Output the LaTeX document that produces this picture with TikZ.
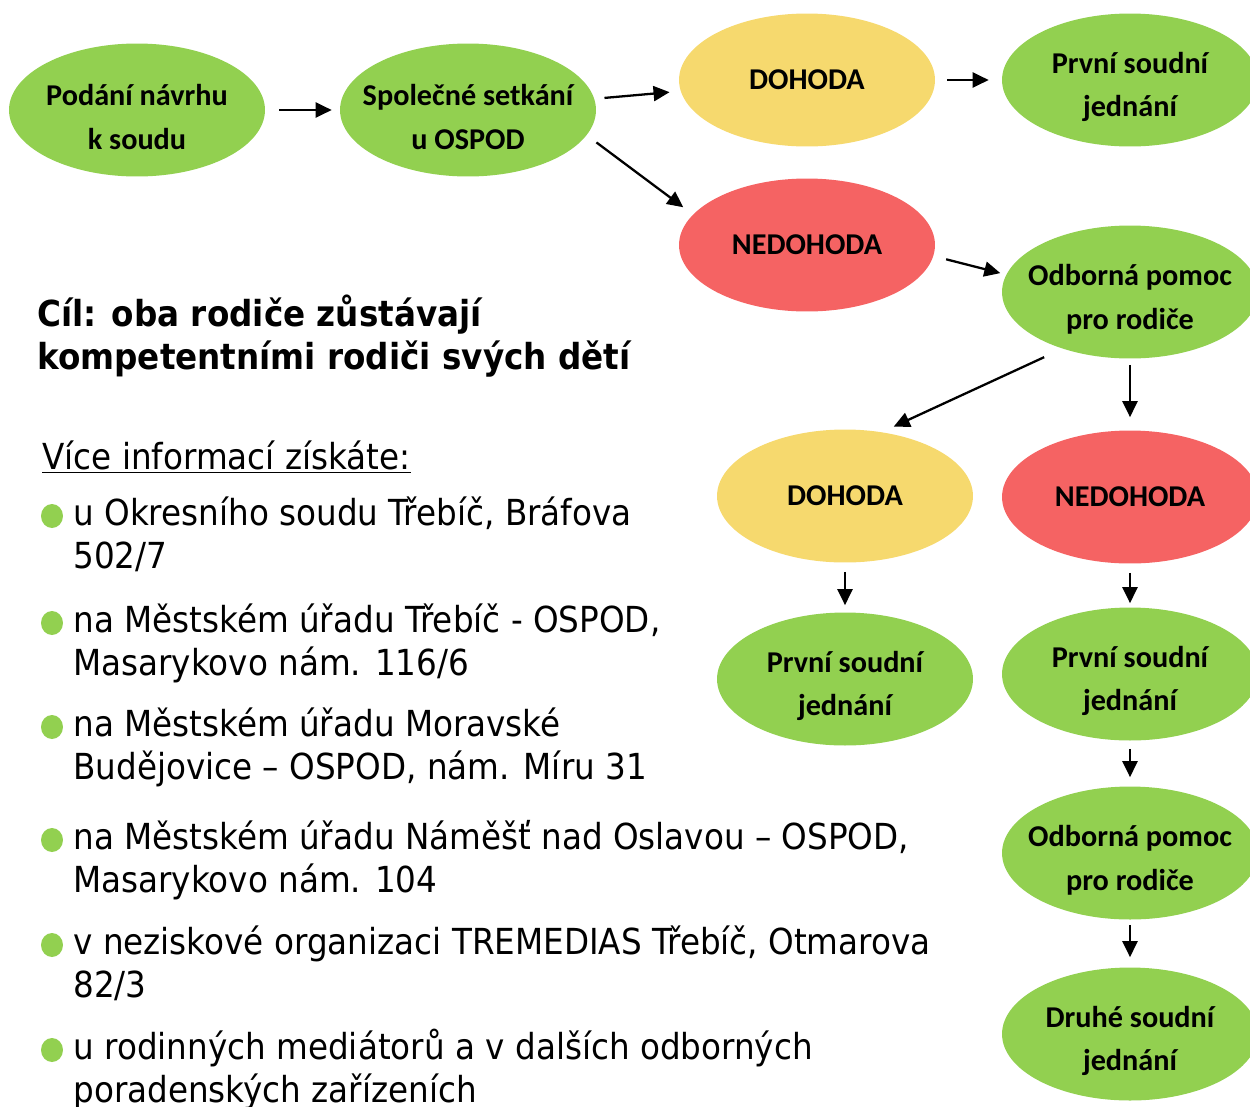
\documentclass[tikz,border=0pt]{standalone}
\usepackage{fontspec}
\setmainfont[FakeStretch=0.91]{DejaVu Sans}
\newfontfamily\bubblefont{Carlito}
\usetikzlibrary{shapes.geometric,arrows.meta}

\definecolor{okgreen}{RGB}{146,208,80}
\definecolor{agryellow}{RGB}{246,217,110}
\definecolor{disred}{RGB}{245,99,99}

\begin{document}
\begin{tikzpicture}[x=0.02cm, y=-0.02cm,
  bubble/.style={ellipse, minimum width=5.12cm, minimum height=2.66cm, inner sep=0pt},
  green/.style={bubble, fill=okgreen},
  yellow/.style={bubble, fill=agryellow},
  red/.style={bubble, fill=disred},
  btext/.style={font=\bubblefont\bfseries\fontsize{17.2}{24.9}\selectfont, align=center},
  two/.style={btext, yshift=-0.14cm},
  flow/.style={-{Triangle[length=0.32cm,width=0.3cm]}, line width=1.3pt},
  item/.style={anchor=base west, align=left, inner sep=0pt, font=\fontsize{20.4}{24.4}\selectfont},
  dot/.style={ellipse, fill=okgreen, minimum width=0.44cm, minimum height=0.48cm, inner sep=0pt}]

\useasboundingbox (0,0) rectangle (1250,1106);
\clip (0,0) rectangle (1250,1106);

% Row 1
\node[green, label={[two]center:Podání návrhu\\k soudu}] (sub) at (137,110) {};
\node[green, label={[two]center:Společné setkání\\u OSPOD}] (meet) at (468,110) {};
\node[yellow, label={[btext]center:DOHODA}] (agr1) at (807,80) {};
\node[green, label={[two]center:První soudní\\jednání}] (court1) at (1130,80) {};

% Row 2
\node[red, label={[btext]center:NEDOHODA}] (dis1) at (807,245) {};
\node[green, label={[two]center:Odborná pomoc\\pro rodiče}] (help1) at (1130,292) {};

% Column left
\node[yellow, label={[btext]center:DOHODA}] (agr2) at (845,496) {};
\node[green, label={[two]center:První soudní\\jednání}] (court2a) at (845,679) {};

% Column right
\node[red, label={[btext]center:NEDOHODA}] (dis2) at (1130,497) {};
\node[green, label={[two]center:První soudní\\jednání}] (court2b) at (1130,674) {};
\node[green, label={[two]center:Odborná pomoc\\pro rodiče}] (help2) at (1130,853) {};
\node[green, label={[two]center:Druhé soudní\\jednání}] (court3) at (1130,1034) {};

% Arrows
\draw[flow, shorten <=0.28cm, shorten >=0.16cm] (sub) -- (meet);
\draw[flow, shorten <=0.2cm, shorten >=0.22cm] (meet) -- (agr1);
\draw[flow, shorten <=0.24cm, shorten >=0.24cm] (meet.-12) -- (dis1.165);
\draw[flow, shorten <=0.24cm, shorten >=0.26cm] (agr1) -- (court1);
\draw[flow, shorten <=0.26cm, shorten >=0.12cm] (dis1.-5) -- (help1.172);
\draw[flow, shorten <=0.4cm, shorten >=0.26cm] (help1.220) -- (agr2.60);
\draw[flow, shorten <=0.12cm, shorten >=0.26cm] (help1) -- (dis2);
\draw[flow, shorten <=0.18cm, shorten >=0.14cm] (agr2) -- (court2a);
\draw[flow, shorten <=0.18cm, shorten >=0.08cm] (dis2) -- (court2b);
\draw[flow, shorten <=0.16cm, shorten >=0.18cm] (court2b) -- (help2);
\draw[flow, shorten <=0.1cm, shorten >=0.2cm] (help2) -- (court3);

% Goal
\node[item, font=\bfseries\fontsize{20.4}{24.4}\selectfont] (goal) at (37,369)
  {Cíl: oba rodiče zůstávají\\kompetentními rodiči svých dětí};

% More information
\node[item] (info) at (42,469) {\underline{Více informací získáte:}};

\foreach \y/\txt [count=\i] in {
  525/{u Okresního soudu Třebíč, Bráfova\\502/7},
  632/{na Městském úřadu Třebíč - OSPOD,\\Masarykovo nám. 116/6},
  736/{na Městském úřadu Moravské\\Budějovice – OSPOD, nám. Míru 31},
  849/{na Městském úřadu Náměšť nad Oslavou – OSPOD,\\Masarykovo nám. 104},
  954/{v neziskové organizaci TREMEDIAS Třebíč, Otmarova\\82/3},
  1059/{u rodinných mediátorů a v dalších odborných\\poradenských zařízeních}} {
  \node[dot] (dot\i) at (52,\y-9) {};
  \node[item] (place\i) at (73,\y+43) {\txt};
}

\end{tikzpicture}
\end{document}
